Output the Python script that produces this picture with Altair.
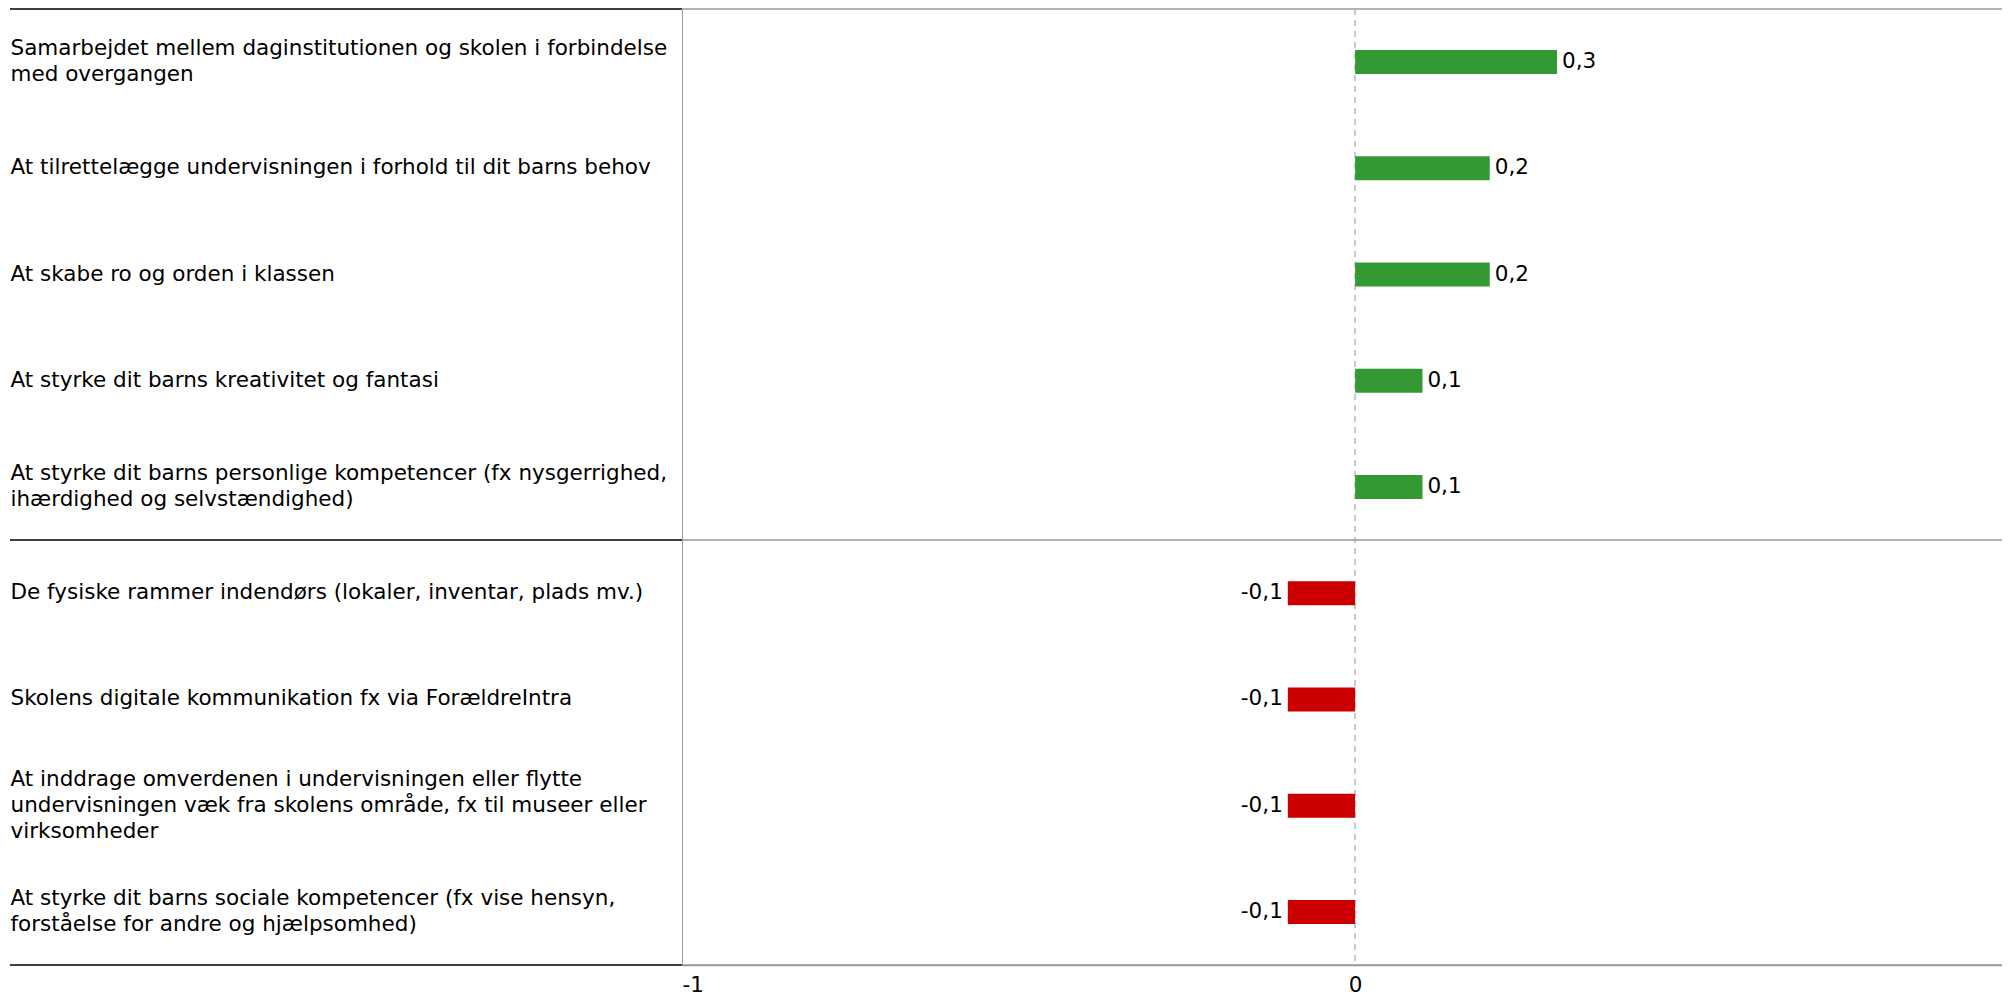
import altair as alt
import pandas as pd

categories = [
    "Samarbejdet mellem daginstitutionen og skolen i forbindelse|med overgangen",
    "At tilrettelægge undervisningen i forhold til dit barns behov",
    "At skabe ro og orden i klassen",
    "At styrke dit barns kreativitet og fantasi",
    "At styrke dit barns personlige kompetencer (fx nysgerrighed,|ihærdighed og selvstændighed)",
    "De fysiske rammer indendørs (lokaler, inventar, plads mv.)",
    "Skolens digitale kommunikation fx via ForældreIntra",
    "At inddrage omverdenen i undervisningen eller flytte|undervisningen væk fra skolens område, fx til museer eller|virksomheder",
    "At styrke dit barns sociale kompetencer (fx vise hensyn,|forståelse for andre og hjælpsomhed)",
]
values = [0.3, 0.2, 0.2, 0.1, 0.1, -0.1, -0.1, -0.1, -0.1]
x_ticks = [-1, 0]
x_domain = [-1, 0.961]

GREEN = "#339933"
RED = "#CC0000"
FONT = "DejaVu Sans"
W, H = 1320, 956
LEFT = 674
LINE_H = 26

df = pd.DataFrame({
    "cat": categories,
    "value": values,
    "label": [f"{v:.1f}".replace(".", ",") for v in values],
    "sign": ["pos" if v > 0 else "neg" for v in values],
})
sep_top = pd.DataFrame({"cat": [categories[0], categories[5]]})
sep_bot = pd.DataFrame({"cat": [categories[-1]]})

yscale = alt.Scale(paddingInner=0, paddingOuter=0)
xscale = alt.Scale(domain=x_domain, nice=False)

y_axis = alt.Axis(
    title=None, labelAlign="left", labelBaseline="middle", labelPadding=672, labelLimit=720,
    labelFont=FONT, labelFontSize=21.5, labelColor="black", labelLineHeight=LINE_H,
    labelExpr="split(datum.label, '|')",
    labelOffset=alt.ExprRef(f"-(length(split(datum.value, '|')) - 1) * {LINE_H / 2}"),
    ticks=False, domainColor="#999999", domainWidth=1, grid=False,
)
x_axis = alt.Axis(
    values=x_ticks, title=None, grid=False, ticks=False,
    domainColor="#999999", domainWidth=1.5, labelFlush=True,
    labelFont=FONT, labelFontSize=21.5, labelColor="black", labelPadding=9,
    labelExpr="datum.value < 0 ? '-' + abs(datum.value) : '' + datum.value",
)

Y = alt.Y("cat:N", sort=categories, scale=yscale, axis=y_axis)
X = alt.X("value:Q", scale=xscale, axis=x_axis)

base = alt.Chart(df)

zero = base.mark_rule(color="#c8c8c8", strokeDash=[6, 5], strokeWidth=1).encode(
    x=alt.datum(0, scale=xscale, axis=x_axis)
)

bars = base.mark_bar(height=24).encode(
    x=X,
    y=Y,
    color=alt.Color("sign:N", scale=alt.Scale(domain=["pos", "neg"], range=[GREEN, RED]), legend=None),
)

txt_pos = base.transform_filter("datum.value > 0").mark_text(
    align="left", baseline="middle", dx=5, font=FONT, fontSize=21.5, color="black"
).encode(x=X, y=Y, text="label:N")

txt_neg = base.transform_filter("datum.value < 0").mark_text(
    align="right", baseline="middle", dx=-5, font=FONT, fontSize=21.5, color="black"
).encode(x=X, y=Y, text="label:N")


def seps(data, band_pos):
    ych = alt.Y("cat:N", sort=categories, scale=yscale, axis=y_axis, bandPosition=band_pos)
    black = alt.Chart(data).mark_rule(color="black", strokeWidth=1.5).encode(
        y=ych, x=alt.value(-672), x2=alt.value(0)
    )
    gray = alt.Chart(data).mark_rule(color="#999999", strokeWidth=1.5).encode(
        y=ych, x=alt.datum(x_domain[0], scale=xscale, axis=x_axis), x2=alt.datum(x_domain[1])
    )
    return [black, gray]


layers = [zero, bars, txt_pos, txt_neg] + seps(sep_top, 0) + seps(sep_bot, 1)

chart = alt.layer(*layers).properties(
    width=W, height=H,
    padding={"left": LEFT, "top": 1, "right": 0, "bottom": 32},
    autosize="none",
).configure_view(stroke=None)

chart.save("out.html", embed_options={"renderer": "svg", "actions": False})
